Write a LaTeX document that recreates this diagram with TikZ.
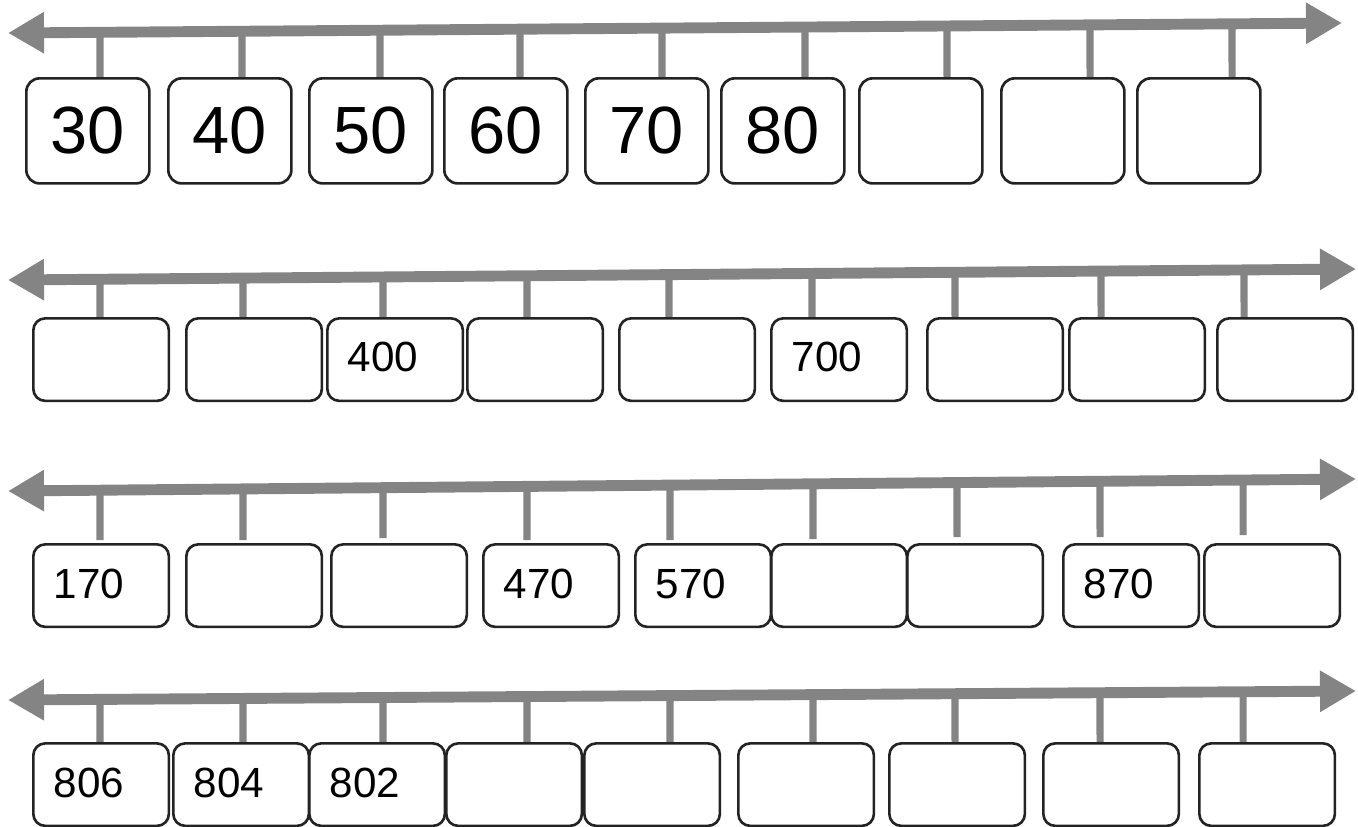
\documentclass[tikz,border=0pt]{standalone}
\usepackage{fontspec}
\setmainfont{Liberation Sans}
\usepackage{tikz}
\usetikzlibrary{arrows.meta,calc}
\definecolor{axisGray}{RGB}{132,132,132}
\definecolor{boxInk}{RGB}{35,35,35}

\tikzset{
  axisline/.style={axisGray,line width=3.1pt,
    {Triangle[length=3.6mm,width=3.9mm]}-{Triangle[length=3.6mm,width=3.9mm]}},
  tickmark/.style={axisGray,line width=2pt},
  bigbox/.style={draw=boxInk,line width=0.75pt,rounded corners=3.8pt,anchor=north west,
    minimum width=1.23cm,minimum height=1.05cm,inner sep=0pt,
    font=\fontsize{19}{22}\selectfont},
  smallbox/.style={draw=boxInk,line width=0.75pt,rounded corners=3.4pt,anchor=north west,
    minimum width=1.355cm,minimum height=0.825cm,inner sep=0pt},
  boxtext/.style={anchor=west,inner sep=0pt,font=\fontsize{12}{14}\selectfont}
}

\begin{document}
\begin{tikzpicture}[x=0.01cm,y=-0.01cm]
  \useasboundingbox (0,0) rectangle (1358,826);
  % axis helper: row name, left y, right x, right y
  \newcommand{\axisends}[4]{%
    \coordinate (#1L) at (8,#2);
    \coordinate (#1R) at (#3,#4);}
  \axisends{rowA}{33}{1342}{23}
  \axisends{rowB}{280}{1356}{269}
  \axisends{rowC}{491}{1356}{479}
  \axisends{rowD}{700}{1356}{691}
  % ticks first, the axis covers their tops
  \foreach \tx in {100,242,380,520,662,805,947,1090,1232}
    \draw[tickmark] ($(rowAL)!{(\tx-8)/1334}!(rowAR)$) -- (\tx,77);
  \foreach \tx in {100,243,383,527,669,812,955,1101,1244}
    \draw[tickmark] ($(rowBL)!{(\tx-8)/1348}!(rowBR)$) -- (\tx,317);
  \foreach \tx/\ty in {100/540,243/540,383/538,527/540,670/540,813/539,957/537,1100/537,1243/535}
    \draw[tickmark] ($(rowCL)!{(\tx-8)/1348}!(rowCR)$) -- (\tx,\ty);
  \foreach \tx in {100,243,383,527,670,813,955,1100,1243}
    \draw[tickmark] ($(rowDL)!{(\tx-8)/1348}!(rowDR)$) -- (\tx,742);
  % the four number lines
  \draw[axisline] (rowAL) -- (rowAR);
  \draw[axisline] (rowBL) -- (rowBR);
  \draw[axisline] (rowCL) -- (rowCR);
  \draw[axisline] (rowDL) -- (rowDR);
  % Tens
  \foreach \bx/\lbl [count=\i] in {25/30,167/40,308/50,443/60,584/70,720/80,858/,1000/,1136/}
    \node[bigbox] (boxA\i) at (\bx,77) {\lbl};
  % Hundreds
  \foreach \bx/\lbl [count=\i] in {32/,185/,326/400,466/,618/,770/700,926/,1068/,1216/}{
    \node[smallbox] (boxB\i) at (\bx,317) {};
    \node[boxtext] (textB\i) at ([xshift=0.21cm,yshift=0.025cm]boxB\i.west) {\lbl};}
  % Seventies
  \foreach \bx/\lbl [count=\i] in {32/170,185/,330/,482/470,634/570,770/,906/,1062/870,1203/}{
    \node[smallbox] (boxC\i) at (\bx,543) {};
    \node[boxtext] (textC\i) at ([xshift=0.21cm,yshift=0.02cm]boxC\i.west) {\lbl};}
  % Counting back by two
  \foreach \bx/\lbl [count=\i] in {32/806,172/804,308/802,445/,583/,737/,888/,1042/,1198/}{
    \node[smallbox] (boxD\i) at (\bx,742) {};
    \node[boxtext] (textD\i) at ([xshift=0.21cm,yshift=0.02cm]boxD\i.west) {\lbl};}
\end{tikzpicture}
\end{document}
